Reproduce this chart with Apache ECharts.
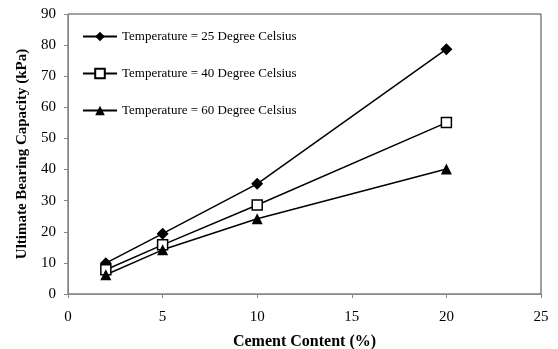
<!DOCTYPE html>
<html><head><meta charset="utf-8">
<script src="https://cdn.jsdelivr.net/npm/echarts@6/dist/echarts.min.js"></script>
<style>html,body{margin:0;padding:0;background:#fff}#c{width:558px;height:349px}</style>
</head><body><div id="c"></div>
<script>
const cementContent = [2, 5, 10, 20];
const temp25 = [9.9, 19.4, 35.4, 78.7];
const temp40 = [7.8, 15.8, 28.6, 55.1];
const temp60 = [6.2, 14.2, 24.2, 40.2];
const seriesNames = ['Temperature = 25 Degree Celsius', 'Temperature = 40 Degree Celsius', 'Temperature = 60 Degree Celsius'];
const xTitle = 'Cement Content (%)';
const yTitle = 'Ultimate Bearing Capacity (kPa)';

const font = 'Liberation Serif, Times New Roman, serif';
const pair = (ys) => cementContent.map((x, i) => [x, ys[i]]);
const chart = echarts.init(document.getElementById('c'), null, {renderer: 'canvas'});
const mk = (name, ys, symbol, size, fill) => ({
  name, type: 'line', data: pair(ys), symbol, symbolSize: size, showAllSymbol: true,
  lineStyle: {color: '#000', width: 1.5},
  itemStyle: {color: fill, borderColor: '#000', borderWidth: fill === '#fff' ? 1.5 : 0},
  emphasis: {disabled: true}, animation: false
});
chart.setOption({
  animation: false,
  textStyle: {fontFamily: font},
  grid: {left: 68, top: 14, right: 17, bottom: 55, show: true, borderColor: '#444', borderWidth: 1,
         containLabel: false, outerBoundsMode: 'none'},
  legend: {
    orient: 'vertical', left: 77, top: 25, itemGap: 24, itemWidth: 34, itemHeight: 12,
    textStyle: {fontFamily: font, fontSize: 13, color: '#000'},
    data: seriesNames
  },
  xAxis: {
    type: 'value', min: 0, max: 25, interval: 5,
    name: xTitle, nameLocation: 'middle', nameGap: 40,
    nameTextStyle: {fontFamily: font, fontWeight: 'bold', fontSize: 16, color: '#000'},
    axisLine: {lineStyle: {color: '#888'}}, axisTick: {lineStyle: {color: '#888'}, length: 4},
    axisLabel: {fontFamily: font, fontSize: 15, color: '#000', margin: 16},
    splitLine: {show: false}
  },
  yAxis: {
    type: 'value', min: 0, max: 90, interval: 10,
    name: yTitle, nameLocation: 'middle', nameGap: 37,
    nameTextStyle: {fontFamily: font, fontWeight: 'bold', fontSize: 15, color: '#000'},
    axisLine: {show: true, lineStyle: {color: '#888'}}, axisTick: {show: true, lineStyle: {color: '#888'}, length: 4},
    axisLabel: {fontFamily: font, fontSize: 15, color: '#000', margin: 12},
    splitLine: {show: false}
  },
  series: [
    mk(seriesNames[0], temp25, 'diamond', 12, '#000'),
    mk(seriesNames[1], temp40, 'rect', 10, '#fff'),
    mk(seriesNames[2], temp60, 'triangle', 11, '#000')
  ]
});
</script></body></html>
